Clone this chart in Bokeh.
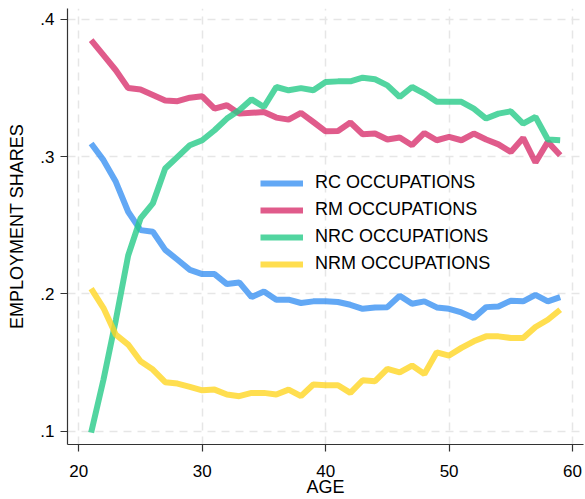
from bokeh.plotting import figure
from bokeh.models import FixedTicker, CustomJSTickFormatter, Range1d
from bokeh.embed import file_html
from bokeh.resources import INLINE

ages = list(range(21, 60))
rc = [.3096, .2975, .2817, .2599, .2465, .2453, .2321, .2249, .2176, .2145,
      .2145, .2072, .2084, .1977, .2018, .1958, .1958, .1934, .1946, .1946,
      .1941, .1921, .1892, .1902, .1904, .1987, .1929, .1946, .1902, .1892,
      .1865, .1825, .1904, .1909, .1951, .1946, .1994, .1946, .1977]
rm = [.385, .374, .363, .350, .349, .345, .341, .3405, .343, .344,
      .335, .3375, .3314, .332, .3326, .3285, .327, .332, .3253, .3185,
      .3188, .3249, .3164, .3169, .3125, .314, .3084, .3173, .312, .3144,
      .312, .3169, .3125, .309, .3035, .3137, .2958, .3108, .301]
nrc = [.099, .1376, .181, .228, .255, .266, .2914, .2999, .3084, .312,
       .3193, .3278, .3338, .3418, .3362, .3508, .3484, .350, .3484, .3544,
       .3549, .3549, .3576, .3564, .352, .3435, .3508, .346, .340, .340,
       .340, .335, .3278, .3314, .3331, .3241, .329, .3125, .312]
nrm = [.2038, .1897, .1703, .1631, .1509, .1449, .1357, .1347, .1323, .1298,
       .1303, .1267, .1255, .1279, .1279, .1267, .1303, .1255, .134, .1335,
       .1335, .1279, .1371, .1364, .1454, .1429, .1478, .1417, .1575, .1551,
       .1607, .1655, .1691, .1691, .1679, .1679, .1759, .1812, .1885]

series = [
    ("RC OCCUPATIONS", rc, "#3b92f2"),
    ("RM OCCUPATIONS", rm, "#d8326e"),
    ("NRC OCCUPATIONS", nrc, "#27ca88"),
    ("NRM OCCUPATIONS", nrm, "#ffd623"),
]
x_ticks = [20, 30, 40, 50, 60]
y_ticks = [0.1, 0.2, 0.3, 0.4]

FONT = "Liberation Sans"

p = figure(width=585, height=499, output_backend="svg", toolbar_location=None,
           x_range=Range1d(19.085, 60.89), y_range=Range1d(0.0903, 0.408),
           min_border_left=67, min_border_right=2, min_border_top=8,
           min_border_bottom=54)
p.outline_line_color = None
p.background_fill_color = "white"
p.border_fill_color = "white"

for name, ys, col in series:
    p.line(ages, ys, line_color=col, line_width=6, line_alpha=0.8,
           legend_label=name)

for ax in (p.xaxis[0], p.yaxis[0]):
    ax.major_label_text_font = FONT
    ax.major_label_text_font_size = "17px"
    ax.major_label_text_color = "black"
    ax.axis_label_text_font = FONT
    ax.axis_label_text_font_size = "18px"
    ax.axis_label_text_font_style = "normal"
    ax.axis_label_text_color = "black"
    ax.axis_line_color = "#333333"
    ax.axis_line_width = 1.2
    ax.major_tick_line_color = "#333333"
    ax.major_tick_line_width = 1.2
    ax.major_tick_out = 7
    ax.major_tick_in = 0
    ax.minor_tick_line_color = None

p.xaxis.ticker = FixedTicker(ticks=x_ticks)
p.yaxis.ticker = FixedTicker(ticks=y_ticks)
p.yaxis.formatter = CustomJSTickFormatter(code="return tick.toFixed(1).replace(/^0/, '');")
p.xaxis.axis_label = "AGE"
p.yaxis.axis_label = "EMPLOYMENT SHARES"
p.xaxis.major_label_standoff = 13
p.yaxis.major_label_standoff = 6
p.xaxis.axis_label_standoff = -3
p.yaxis.axis_label_standoff = 10
p.yaxis.major_label_orientation = "horizontal"

p.xgrid.ticker = FixedTicker(ticks=x_ticks)
p.ygrid.ticker = FixedTicker(ticks=y_ticks)
for g in (p.xgrid[0], p.ygrid[0]):
    g.grid_line_color = "#e6e6e6"
    g.grid_line_width = 1.5
    g.grid_line_dash = "8 6"

lg = p.legend[0]
lg.location = (193, 170)
lg.background_fill_alpha = 0
lg.border_line_color = None
lg.padding = 0
lg.margin = 0
lg.spacing = 6
lg.glyph_width = 43
lg.glyph_height = 20
lg.label_height = 20
lg.label_standoff = 12
lg.label_text_font = FONT
lg.label_text_font_size = "18px"
lg.label_text_color = "black"

open("out.html", "w").write(file_html(p, INLINE))
